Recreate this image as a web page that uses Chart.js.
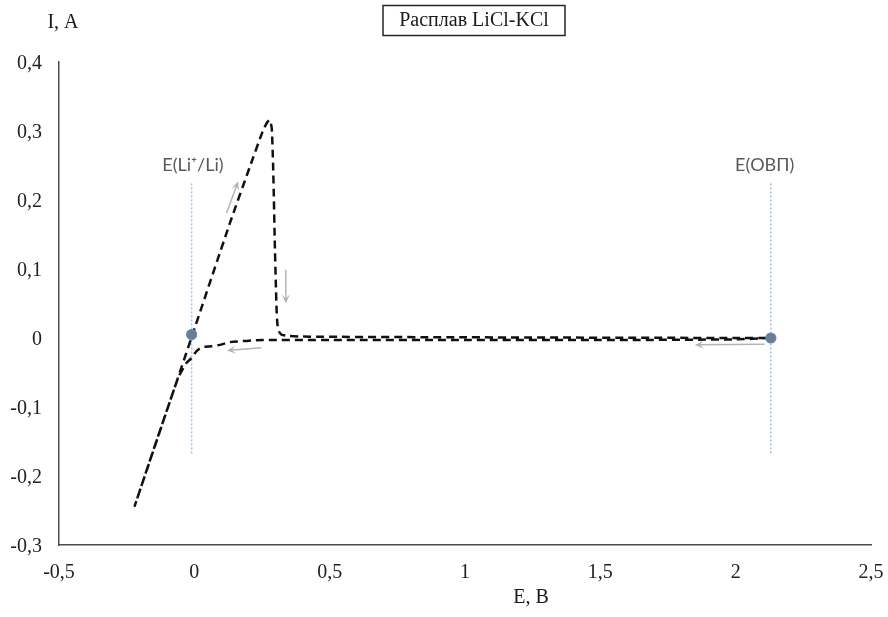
<!DOCTYPE html>
<html>
<head>
<meta charset="utf-8">
<script src="https://cdn.jsdelivr.net/npm/chart.js@4"></script>
<style>
  html, body { margin: 0; padding: 0; background: #ffffff; }
  canvas { display: block; }
</style>
</head>
<body>
<canvas id="cv" width="888" height="617"></canvas>
<script>
// Cyclic voltammogram in LiCl-KCl melt.
// Sweep order: cathodic from E(ОВП) down to -0.22 V, then anodic back to E(ОВП).
const sweepE = [2.13, 2.0, 1.5, 1.0, 0.5, 0.254, 0.131, 0.094, 0.063, 0.032, 0.014, 0.002, -0.010, -0.029, -0.062, -0.220,
  -0.011, 0.131, 0.205, 0.254, 0.270, 0.279, 0.286, 0.291, 0.294, 0.297, 0.301, 0.304, 0.307, 0.312, 0.322, 0.345, 0.40, 1.0, 2.0, 2.13];
const sweepI = [0.000, -0.002, -0.003, -0.003, -0.003, -0.003, -0.006, -0.010, -0.012, -0.013, -0.017, -0.022, -0.029, -0.036, -0.060, -0.243,
  0.000, 0.166, 0.248, 0.301, 0.313, 0.316, 0.304, 0.250, 0.200, 0.142, 0.080, 0.040, 0.020, 0.010, 0.005, 0.003, 0.002, 0.001, 0.000, 0.000];

// Reference potentials: marker points and dotted verticals
const refNames = ['E(Li⁺/Li)', 'E(ОВП)'];
const refE = [-0.01, 2.13];
const refMarkI = [0.005, 0.000];
const refTopI = 0.224;
const refBottomI = -0.168;
const refLabelE = [-0.005, 2.107];
const refLabelI = 0.251;

// Sweep-direction arrows: start and end points
const arrowE0 = [0.119, 0.338, 0.248, 2.107];
const arrowI0 = [0.181, 0.099, -0.014, -0.009];
const arrowE1 = [0.162, 0.338, 0.120, 1.849];
const arrowI1 = [0.227, 0.050, -0.018, -0.010];

// Axis ranges and tick steps
const xRange = [-0.5, 2.5];
const yRange = [-0.3, 0.4];
const xStep = 0.5;
const yStep = 0.1;

const titleText = 'Расплав LiCl-KCl';
const xTitle = 'E, B';
const yTitle = 'I, A';

const SERIF = '"Liberation Serif", "Times New Roman", serif';
const SANS = 'Lato, "Open Sans", sans-serif';

const curvePts = sweepE.map((e, i) => ({ x: e, y: sweepI[i] }));
const markPts = refE.map((e, i) => ({ x: e, y: refMarkI[i] }));
const refLineSets = refE.map(e => ({
  data: [{ x: e, y: refTopI }, { x: e, y: refBottomI }],
  showLine: true,
  borderColor: '#9dc3e6',
  borderWidth: 1.5,
  borderDash: [2, 2],
  pointRadius: 0,
  tension: 0
}));

const fmt = v => {
  const r = Math.round(v * 10) / 10;
  return String(r).replace('.', ',');
};

const decor = {
  id: 'decor',
  afterDatasetsDraw(chart) {
    const ctx = chart.ctx;
    const xs = chart.scales.x, ys = chart.scales.y;
    // direction arrows
    ctx.save();
    ctx.strokeStyle = '#b4b4b4';
    ctx.fillStyle = '#b4b4b4';
    ctx.lineWidth = 1.5;
    for (let i = 0; i < arrowE0.length; i++) {
      const x0 = xs.getPixelForValue(arrowE0[i]), y0 = ys.getPixelForValue(arrowI0[i]);
      const x1 = xs.getPixelForValue(arrowE1[i]), y1 = ys.getPixelForValue(arrowI1[i]);
      const a = Math.atan2(y1 - y0, x1 - x0);
      const hl = 9, hw = 4;
      const bx = x1 - hl * Math.cos(a), by = y1 - hl * Math.sin(a);
      ctx.beginPath();
      ctx.moveTo(x0, y0);
      ctx.lineTo(x1 - 3 * Math.cos(a), y1 - 3 * Math.sin(a));
      ctx.stroke();
      ctx.beginPath();
      ctx.moveTo(x1, y1);
      ctx.lineTo(bx - hw * Math.sin(a), by + hw * Math.cos(a));
      ctx.lineTo(x1 - 5 * Math.cos(a), y1 - 5 * Math.sin(a));
      ctx.lineTo(bx + hw * Math.sin(a), by - hw * Math.cos(a));
      ctx.closePath();
      ctx.fill();
    }
    ctx.restore();
  },
  afterDraw(chart) {
    const ctx = chart.ctx;
    const xs = chart.scales.x, ys = chart.scales.y;
    ctx.save();
    // reference labels
    ctx.font = '18px ' + SANS;
    ctx.fillStyle = '#595959';
    ctx.textAlign = 'center';
    ctx.textBaseline = 'middle';
    refNames.forEach((t, i) => {
      ctx.fillText(t, xs.getPixelForValue(refLabelE[i]), ys.getPixelForValue(refLabelI));
    });
    // boxed title
    ctx.font = '20px ' + SERIF;
    ctx.fillStyle = '#1a1a1a';
    const tx = 474, ty = 21;
    ctx.fillText(titleText, tx, ty);
    ctx.strokeStyle = '#262626';
    ctx.lineWidth = 1.5;
    ctx.strokeRect(383, 5.5, 182, 30);
    // axis titles
    ctx.fillText(yTitle, 63, 23);
    ctx.fillText(xTitle, 531, 598);
    ctx.restore();
  }
};

new Chart(document.getElementById('cv'), {
  type: 'scatter',
  data: {
    datasets: [
      {
        data: markPts,
        pointRadius: 5,
        pointBackgroundColor: '#6f7c8a',
        pointBorderColor: '#5b8bc7',
        pointBorderWidth: 1.2,
        showLine: false
      },
      {
        data: curvePts,
        showLine: true,
        borderColor: '#111111',
        borderWidth: 2.5,
        borderDash: [8, 5],
        pointRadius: 0,
        tension: 0.2
      },
      ...refLineSets
    ]
  },
  plugins: [decor],
  options: {
    responsive: false,
    animation: false,
    events: [],
    layout: { padding: { top: 62, right: 17, bottom: 0, left: 0 } },
    plugins: { legend: { display: false }, tooltip: { enabled: false }, title: { display: false } },
    scales: {
      x: {
        type: 'linear',
        min: xRange[0], max: xRange[1],
        afterFit(s) { s.height = 72; s.paddingLeft = 0; s.paddingRight = 0; },
        grid: { display: false, drawTicks: false },
        border: { display: true, color: '#4d4d4d', width: 1.5 },
        ticks: {
          stepSize: xStep,
          padding: 16,
          color: '#222222',
          font: { family: SERIF, size: 20 },
          callback: v => fmt(v)
        }
      },
      y: {
        type: 'linear',
        min: yRange[0], max: yRange[1],
        afterFit(s) { s.width = 59; s.paddingTop = 0; s.paddingBottom = 0; },
        grid: { display: false, drawTicks: false },
        border: { display: true, color: '#4d4d4d', width: 1.5 },
        ticks: {
          stepSize: yStep,
          padding: 17,
          labelOffset: 2,
          color: '#222222',
          font: { family: SERIF, size: 20 },
          callback: v => fmt(v)
        }
      }
    }
  }
});
</script>
</body>
</html>
